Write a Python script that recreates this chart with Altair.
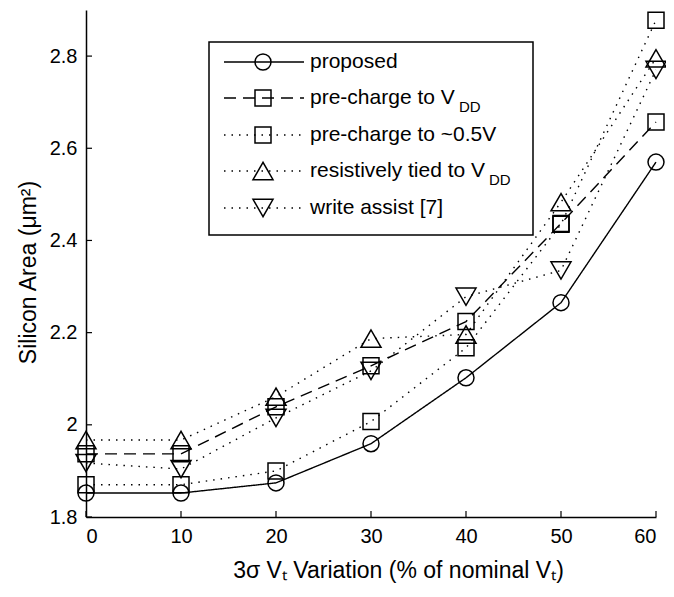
import altair as alt
import pandas as pd

# ---- data ----
x_vals = [0, 10, 20, 30, 40, 50, 60]
series_names = ["proposed", "pre-charge to VDD", "pre-charge to ~0.5V",
                "resistively tied to VDD", "write assist [7]"]
proposed = [1.852, 1.852, 1.874, 1.959, 2.102, 2.265, 2.570]
precharge_vdd = [1.937, 1.937, 2.039, 2.128, 2.224, 2.437, 2.657]
precharge_half = [1.870, 1.870, 1.900, 2.007, 2.167, 2.435, 2.878]
resistive = [1.967, 1.967, 2.061, 2.187, 2.196, 2.483, 2.795]
write_assist = [1.917, 1.904, 2.015, 2.117, 2.278, 2.335, 2.770]

x_ticks = [0, 10, 20, 30, 40, 50, 60]
y_ticks = [1.8, 2.0, 2.2, 2.4, 2.6, 2.8]

legend_main = ["proposed", "pre-charge to V", "pre-charge to ~0.5V",
               "resistively tied to V", "write assist [7]"]
legend_sub = ["", "DD", "", "DD", ""]

# ---- styles ----
FONT = "Liberation Sans"
shapes = ["circle", "square", "square", "triangle-up", "triangle-down"]
sizes = [256, 256, 256, 400, 400]
dashes = [[1, 0], [12, 7], [1.5, 6], [1.5, 6], [1.5, 6]]

all_vals = [proposed, precharge_vdd, precharge_half, resistive, write_assist]
rows = []
for name, vals in zip(series_names, all_vals):
    for xv, yv in zip(x_vals, vals):
        rows.append({"x": xv, "y": yv, "series": name})
df = pd.DataFrame(rows)

xs = alt.Scale(domain=[0, 60], nice=False)
ys = alt.Scale(domain=[1.8, 2.9], nice=False, zero=False)

x_axis = alt.Axis(
    values=x_ticks, ticks=False, grid=False, labelPadding=9, labelFontSize=20,
    title="3σ Vₜ Variation (% of nominal Vₜ)", titleFontSize=23,
    titleFontWeight="normal",
    titleX=312, titleY=60, titleAlign="center", titleBaseline="alphabetic")
y_axis = alt.Axis(
    values=y_ticks, format="~g", ticks=False, grid=False, labelPadding=9,
    labelFontSize=20, title="Silicon Area (μm²)", titleFontSize=23,
    titleFontWeight="normal", titleAngle=-90,
    titleX=-58, titleY=262, titleAlign="center", titleBaseline="middle")

X = alt.X("x:Q", scale=xs, axis=x_axis)
Y = alt.Y("y:Q", scale=ys, axis=y_axis)

layers = []
for name, shp, sz, ds in zip(series_names, shapes, sizes, dashes):
    sub = df[df["series"] == name]
    line = alt.Chart(sub).mark_line(color="black", strokeWidth=1.4,
                                    strokeDash=ds).encode(x=X, y=Y)
    pts = alt.Chart(sub).mark_point(shape=shp, size=sz, filled=False,
                                    color="black", strokeWidth=1.5,
                                    opacity=1).encode(x=X, y=Y)
    layers += [line, pts]

# inward ticks (MATLAB style)
xt = alt.Chart(pd.DataFrame({"x": x_ticks})).mark_rule(
    color="black", strokeWidth=1.2).encode(
    x=X, y=alt.value(507), y2=alt.value(501))
yt = alt.Chart(pd.DataFrame({"y": y_ticks})).mark_rule(
    color="black", strokeWidth=1.2).encode(
    y=Y, x=alt.value(0), x2=alt.value(6))
layers += [xt, yt]

# ---- legend box ----
one = pd.DataFrame({"k": [0]})
layers.append(alt.Chart(one).mark_rect(fill="white", stroke="black",
                                       strokeWidth=1.5).encode(
    x=alt.value(123), x2=alt.value(447), y=alt.value(32), y2=alt.value(225)))
row_y = [52, 88, 125, 161, 198]
sub_x = [0, 373, 0, 403, 0]
for i in range(5):
    ry = row_y[i]
    layers.append(alt.Chart(one).mark_rule(color="black", strokeWidth=1.4,
                                           strokeDash=dashes[i]).encode(
        x=alt.value(138), x2=alt.value(218), y=alt.value(ry)))
    layers.append(alt.Chart(one).mark_point(shape=shapes[i], size=sizes[i],
                                            filled=False, color="black",
                                            strokeWidth=1.5, opacity=1).encode(
        x=alt.value(177), y=alt.value(ry)))
    layers.append(alt.Chart(one).mark_text(align="left", baseline="middle",
                                           font=FONT, fontSize=21,
                                           color="black").encode(
        x=alt.value(224), y=alt.value(ry), text=alt.value(legend_main[i])))
    if legend_sub[i]:
        layers.append(alt.Chart(one).mark_text(align="left", baseline="middle",
                                               font=FONT, fontSize=15,
                                               color="black").encode(
            x=alt.value(sub_x[i]), y=alt.value(ry + 9),
            text=alt.value(legend_sub[i])))

chart = alt.layer(*layers).properties(
    width=570, height=507,
    padding={"left": 78, "top": 2, "right": 10, "bottom": 70},
    autosize=alt.AutoSizeParams(type="none"),
    background="white",
).configure_view(stroke=None).configure_axis(
    grid=False, domainColor="black", domainWidth=1.5,
    labelColor="black", titleColor="black", labelFont=FONT, titleFont=FONT,
    titleFontWeight="normal",
)

chart.save("out.html", embed_options={"renderer": "svg", "actions": False})
